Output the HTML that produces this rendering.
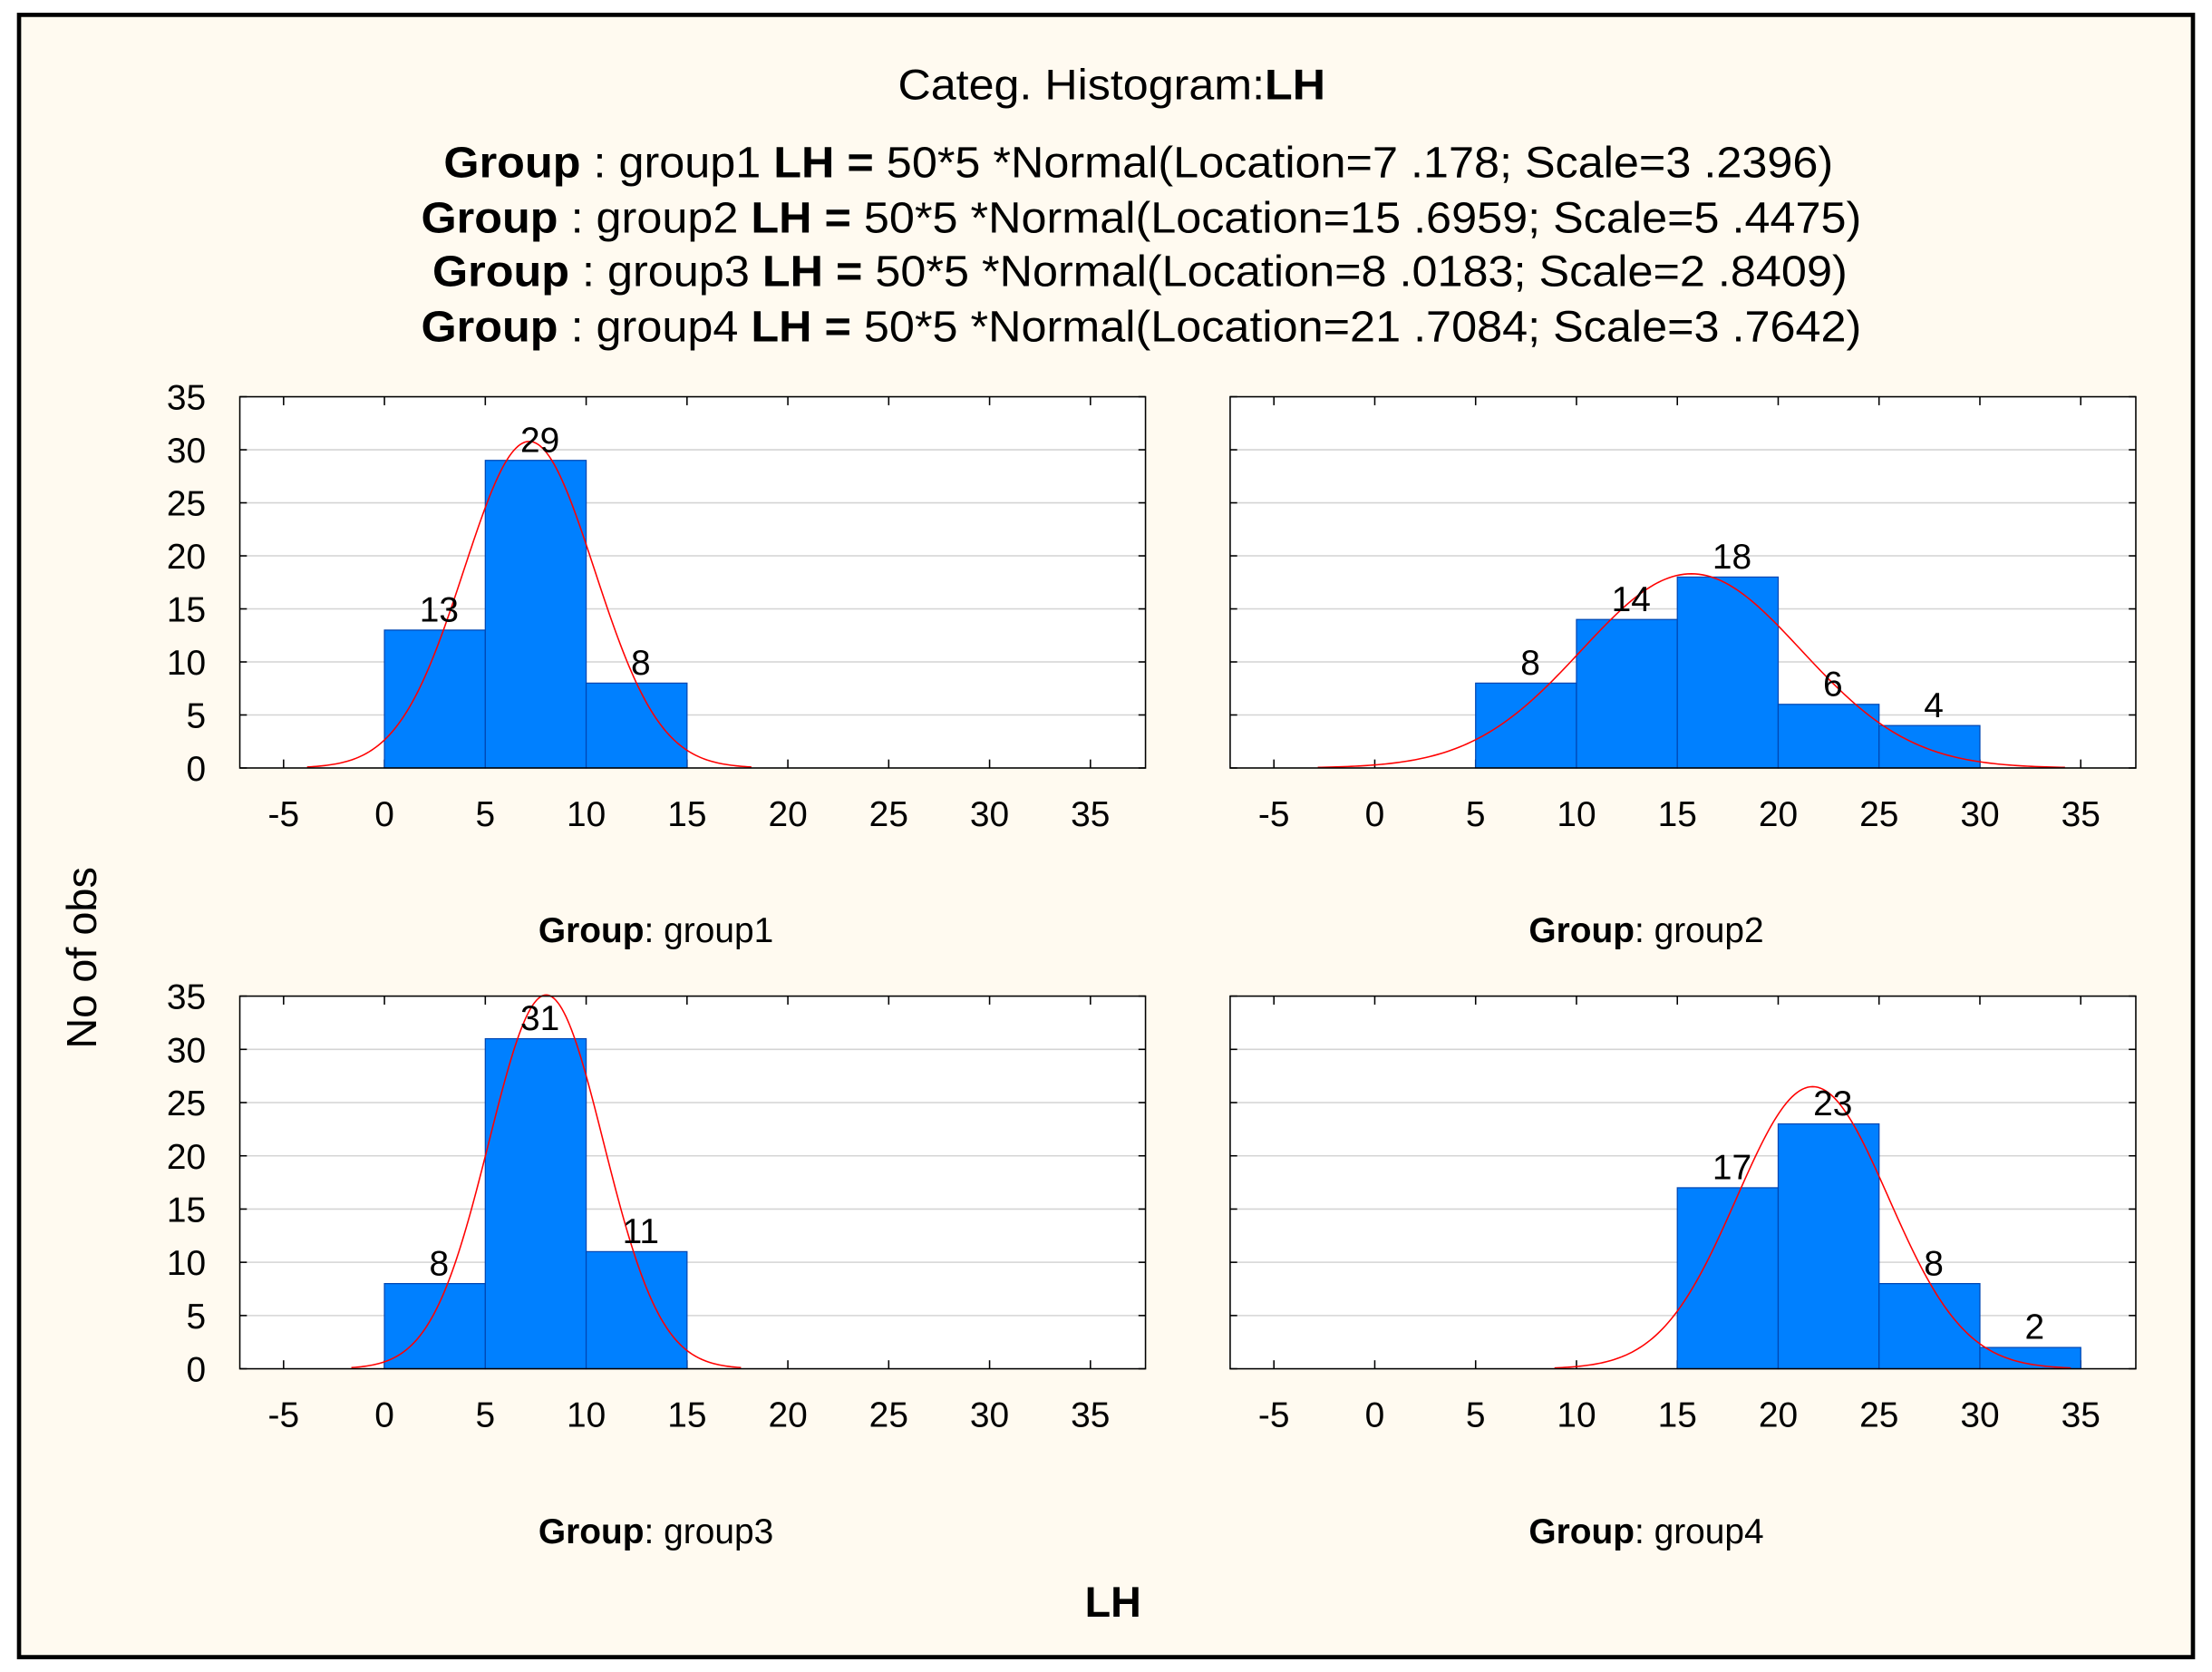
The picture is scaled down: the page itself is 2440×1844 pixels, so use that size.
<!DOCTYPE html>
<html><head><meta charset="utf-8"><style>
html,body{margin:0;padding:0;background:#fff;}
svg{display:block;}
text{font-family:"Liberation Sans",Arial,sans-serif;fill:#000;}
</style></head><body>
<svg id="chart" width="2440" height="1844" viewBox="0 0 1568 1180" preserveAspectRatio="none" xmlns="http://www.w3.org/2000/svg">
<rect x="0" y="0" width="1568" height="1180" fill="#ffffff"/>
<rect x="13.5" y="10.5" width="1541" height="1159" fill="#fffaf0" stroke="#000" stroke-width="3"/>
<g>
<text x="788" y="70" text-anchor="middle" font-size="30" textLength="303" lengthAdjust="spacingAndGlyphs">Categ. Histogram:<tspan font-weight="bold">LH</tspan></text>
<text x="807" y="125" text-anchor="middle" font-size="31" textLength="985" lengthAdjust="spacingAndGlyphs"><tspan font-weight="bold">Group</tspan> : group1 <tspan font-weight="bold">LH =</tspan>  50*5 *Normal(Location=7 .178; Scale=3 .2396)</text>
<text x="809" y="164" text-anchor="middle" font-size="31" textLength="1021" lengthAdjust="spacingAndGlyphs"><tspan font-weight="bold">Group</tspan> : group2 <tspan font-weight="bold">LH =</tspan>  50*5 *Normal(Location=15 .6959; Scale=5 .4475)</text>
<text x="808" y="202" text-anchor="middle" font-size="31" textLength="1003" lengthAdjust="spacingAndGlyphs"><tspan font-weight="bold">Group</tspan> : group3 <tspan font-weight="bold">LH =</tspan>  50*5 *Normal(Location=8 .0183; Scale=2 .8409)</text>
<text x="809" y="241" text-anchor="middle" font-size="31" textLength="1021" lengthAdjust="spacingAndGlyphs"><tspan font-weight="bold">Group</tspan> : group4 <tspan font-weight="bold">LH =</tspan>  50*5 *Normal(Location=21 .7084; Scale=3 .7642)</text>
</g>
<text transform="translate(68,676) rotate(-90)" text-anchor="middle" font-size="30">No of obs</text>
<text x="789" y="1141" text-anchor="middle" font-size="30" font-weight="bold">LH</text>
<g id="panels"></g>
</svg>
<script>
const groupNames = ["group1","group2","group3","group4"];
const binStarts = [[0,5,10],[5,10,15,20,25],[0,5,10],[15,20,25,30]];
const binCounts = [[13,29,8],[8,14,18,6,4],[8,31,11],[17,23,8,2]];
const locations = [7.178,15.6959,8.0183,21.7084];
const scales = [3.2396,5.4475,2.8409,3.7642];
const binWidth = 5;
const totalN = 50;
const xTicks = [-5,0,5,10,15,20,25,30,35];
const yTicks = [0,5,10,15,20,25,30,35];

const NS = "http://www.w3.org/2000/svg";
const panelsG = document.getElementById('panels');
function mk(tag, attrs, parent){
  const e = document.createElementNS(NS, tag);
  for (const k in attrs) e.setAttribute(k, attrs[k]);
  parent.appendChild(e);
  return e;
}
const layout = [
  {l:170,r:812,t:280,b:542,yl:true},
  {l:872,r:1514,t:280,b:542,yl:false},
  {l:170,r:812,t:703,b:966,yl:true},
  {l:872,r:1514,t:703,b:966,yl:false}
];
const xMin = -7.17, xMax = 37.73, yMax = 35;

groupNames.forEach((gname, gi) => {
  const L = layout[gi];
  const sx = v => L.l + (v - xMin) / (xMax - xMin) * (L.r - L.l);
  const sy = v => L.b - v / yMax * (L.b - L.t);
  const g = mk('g', {}, panelsG);
  
  
  const bg = mk('rect', {x:L.l, y:L.t, width:L.r-L.l, height:L.b-L.t, fill:'#fff'}, g);
  
  
  yTicks.forEach(t => {
    if (t > 0 && t < yMax) {
      const gl = mk('line', {x1:L.l, x2:L.r, y1:sy(t), y2:sy(t), stroke:'#d4d4d4', 'stroke-width':1}, g);
      
      
    }
    const tl = mk('line', {x1:L.l, x2:L.l+5, y1:sy(t), y2:sy(t), stroke:'#000', 'stroke-width':1}, g);
    
    
    const tr = mk('line', {x1:L.r-5, x2:L.r, y1:sy(t), y2:sy(t), stroke:'#000', 'stroke-width':1}, g);
    
    
    if (L.yl) {
      const lab = mk('text', {x:L.l-24, y:sy(t)+9, 'text-anchor':'end', 'font-size':25}, g);
      lab.textContent = t;
      
      
    }
  });
  xTicks.forEach(t => {
    const tk = mk('line', {x1:sx(t), x2:sx(t), y1:L.t, y2:L.t+6, stroke:'#000', 'stroke-width':1}, g);
    
    
    const tb = mk('line', {x1:sx(t), x2:sx(t), y1:L.b-6, y2:L.b, stroke:'#000', 'stroke-width':1}, g);
    
    
    const lab = mk('text', {x:sx(t), y:L.b+41, 'text-anchor':'middle', 'font-size':25}, g);
    lab.textContent = t;
    
    
  });
  binStarts[gi].forEach((s, bi) => {
    const c = binCounts[gi][bi];
    const bar = mk('rect', {x:sx(s), y:sy(c), width:sx(s+binWidth)-sx(s), height:sy(0)-sy(c), fill:'#0080ff', stroke:'#0047b3', 'stroke-width':0.8}, g);
    
    
  });
  const mu = locations[gi], sd = scales[gi];
  let d = '';
  const a = Math.max(xMin, mu - 3.4*sd), b = Math.min(xMax, mu + 3.4*sd);
  for (let i = 0; i <= 200; i++) {
    const x = a + (b - a) * i / 200;
    const y = totalN * binWidth * Math.exp(-0.5*((x-mu)/sd)**2) / (sd*Math.sqrt(2*Math.PI));
    d += (i ? 'L' : 'M') + sx(x).toFixed(2) + ',' + sy(y).toFixed(2);
  }
  const curve = mk('path', {d:d, fill:'none', stroke:'#ff0000', 'stroke-width':1}, g);
  
  
  binStarts[gi].forEach((s, bi) => {
    const c = binCounts[gi][bi];
    const lab = mk('text', {x:sx(s+binWidth/2)+3, y:sy(c)-6, 'text-anchor':'middle', 'font-size':25}, g);
    lab.textContent = c;
    
    
  });
  const fr = mk('rect', {x:L.l, y:L.t, width:L.r-L.l, height:L.b-L.t, fill:'none', stroke:'#000', 'stroke-width':1}, g);
  
  
  const gl = mk('text', {x:(L.l+L.r)/2-26, y:L.b+123, 'text-anchor':'middle', 'font-size':25}, g);
  gl.innerHTML = '<tspan font-weight="bold">Group</tspan>: ' + gname;
  
  
});
</script>
</body></html>
